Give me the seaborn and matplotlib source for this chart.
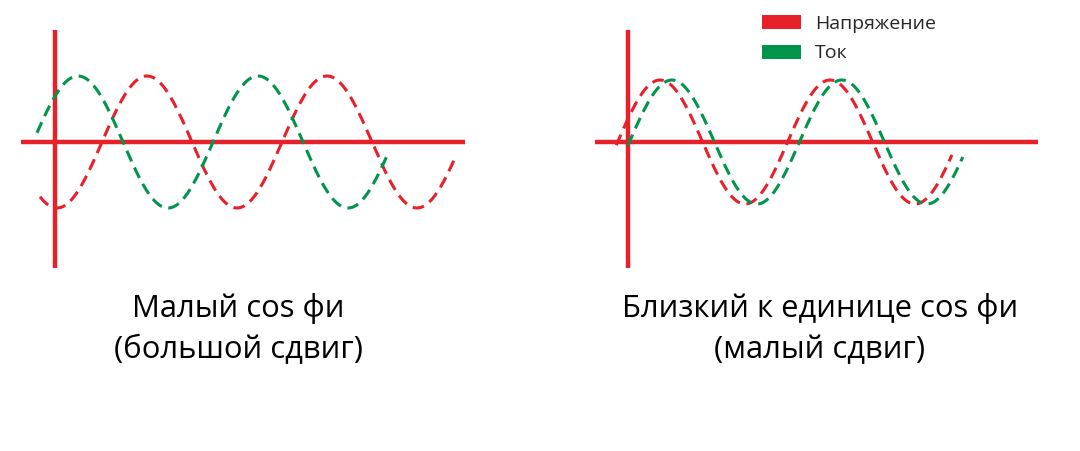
import numpy as np
import pandas as pd
import matplotlib
matplotlib.use("Agg")
import matplotlib.pyplot as plt
from matplotlib.patches import Patch
import seaborn as sns

# --- данные ---
series_names = ["Напряжение", "Ток"]
series_colors = ["#e8202a", "#00954a"]

# левая панель: положение максимума и границы кривых, в градусах
left_peak_deg = [184, 46]
left_start_deg = [-30, -36]
left_end_deg = [802, 668]

# правая панель
right_peak_deg = [68, 93]
right_start_deg = [-25, 0]
right_end_deg = [686, 709]

captions = [["Малый cos фи", "(большой сдвиг)"],
            ["Близкий к единице cos фи", "(малый сдвиг)"]]


def wave_frame(peaks, starts, ends):
    rows = []
    for name, peak, x0, x1 in zip(series_names, peaks, starts, ends):
        x = np.linspace(x0, x1, 400)
        rows.append(pd.DataFrame({"x": x, "y": np.cos(np.radians(x - peak)), "series": name}))
    return pd.concat(rows, ignore_index=True)


sns.set_theme(style="white")
plt.rcParams["font.family"] = ["Open Sans", "DejaVu Sans"]

W, H = 1080, 451
fig = plt.figure(figsize=(W / 100, H / 100), dpi=100)
palette = dict(zip(series_names, series_colors))
dash = (0, (3.8, 2.2))

# геометрия панелей в пикселях
panels = [
    dict(px0=0, px1=540, ox=55, oy=142, sx=0.5, sy=66, hx=(21, 465),
         df=wave_frame(left_peak_deg, left_start_deg, left_end_deg)),
    dict(px0=540, px1=1080, ox=628, oy=142, sx=170 / 360, sy=62, hx=(595, 1038),
         df=wave_frame(right_peak_deg, right_start_deg, right_end_deg)),
]

for p in panels:
    ax = fig.add_axes([p["px0"] / W, 0, (p["px1"] - p["px0"]) / W, 1])
    ax.set_xlim((p["px0"] - p["ox"]) / p["sx"], (p["px1"] - p["ox"]) / p["sx"])
    ax.set_ylim(-(H - p["oy"]) / p["sy"], p["oy"] / p["sy"])
    ax.axis("off")
    sns.lineplot(data=p["df"], x="x", y="y", hue="series", palette=palette,
                 estimator=None, sort=False, legend=False, ax=ax,
                 linewidth=2.2, linestyle=dash, zorder=3)
    # красные оси
    ax.plot([(p["hx"][0] - p["ox"]) / p["sx"], (p["hx"][1] - p["ox"]) / p["sx"]], [0, 0],
            color="#e8202a", lw=3.2, solid_capstyle="butt", zorder=2)
    ax.plot([0, 0], [(p["oy"] - 268) / p["sy"], (p["oy"] - 30) / p["sy"]],
            color="#e8202a", lw=3.2, solid_capstyle="butt", zorder=2)

# подписи
for cx, (l1, l2) in zip([238, 820], captions):
    fig.text(cx / W, 1 - 317 / H, l1, ha="center", va="baseline", fontsize=22.3, color="black")
    fig.text(cx / W, 1 - 358 / H, l2, ha="center", va="baseline", fontsize=22.3, color="black")

handles = [Patch(facecolor=c, edgecolor="none") for c in series_colors]
fig.legend(handles, series_names, loc="upper left", bbox_to_anchor=(754 / W, 1 - 7 / H),
           frameon=False, fontsize=14, handlelength=2.0, handleheight=0.75,
           handletextpad=0.75, labelspacing=0.6, borderaxespad=0)

fig.savefig("out.png", dpi=100)
plt.close(fig)
